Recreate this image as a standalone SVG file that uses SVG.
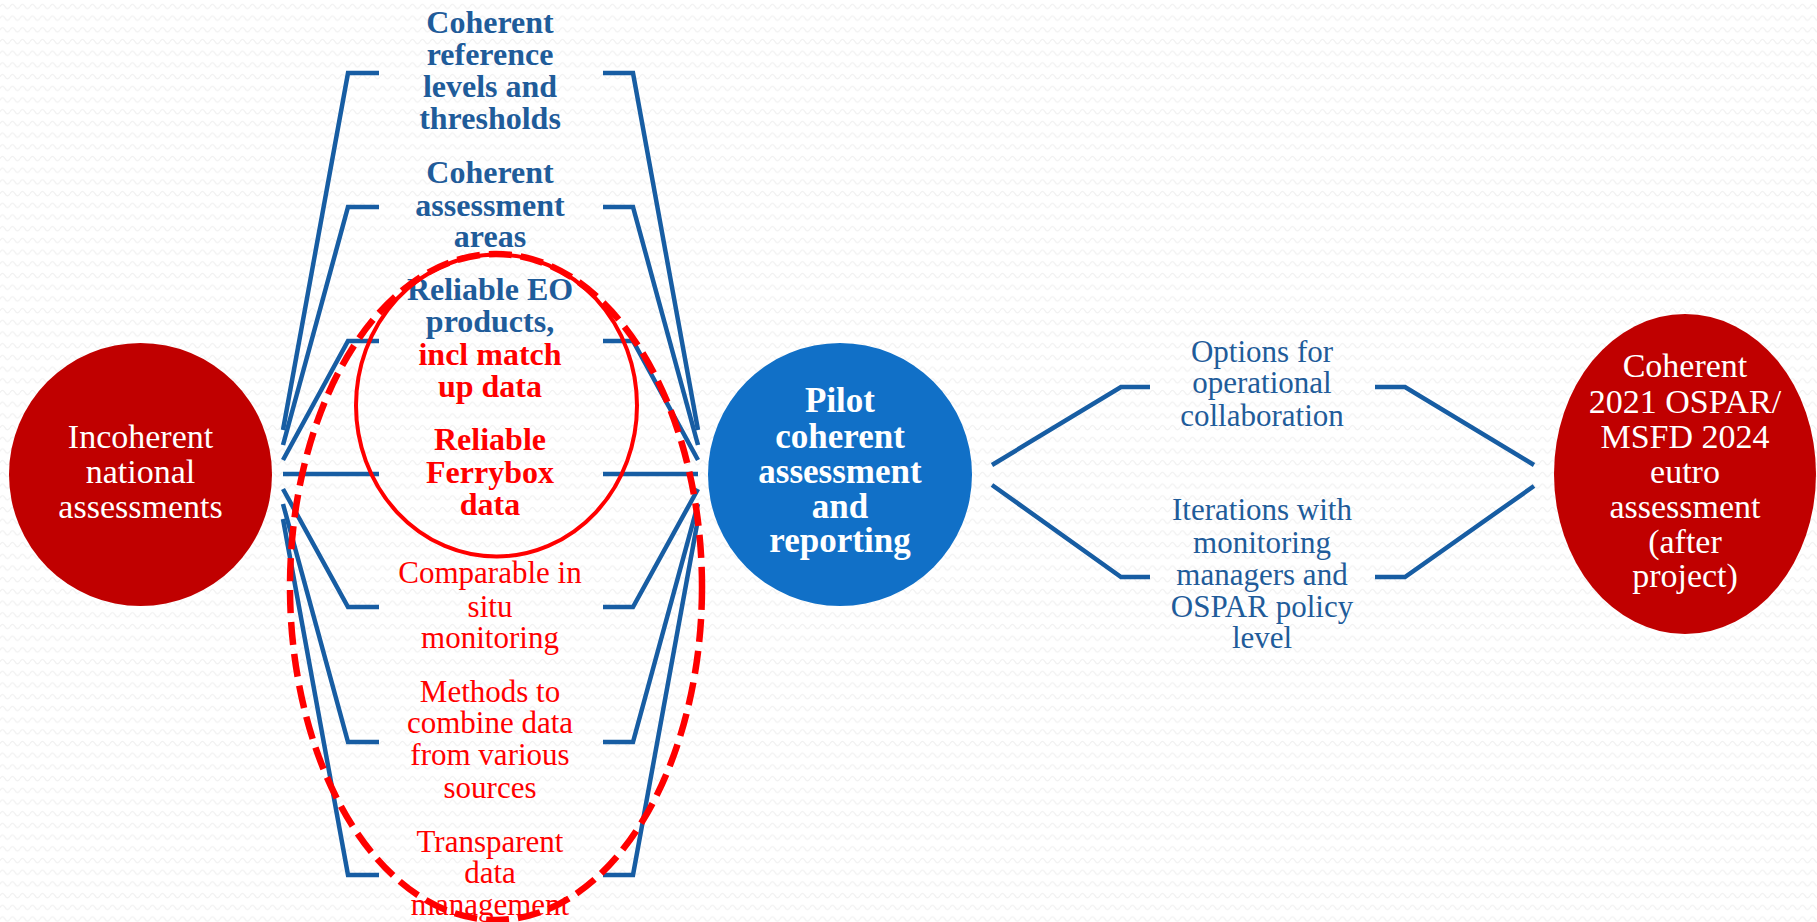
<svg xmlns="http://www.w3.org/2000/svg" width="1817" height="922" viewBox="0 0 1817 922">
<defs>
<pattern id="bg" width="10" height="11.7" patternUnits="userSpaceOnUse">
<path d="M0 6.5 Q2.5 2 5 6.5 T10 6.5" fill="none" stroke="#f1f1f1" stroke-width="1.2"/>
</pattern>
<style>
text{font-family:"Liberation Serif","Times New Roman",serif;text-anchor:middle}
.b{fill:#1f5c9a;font-weight:bold;font-size:32px}
.rb{fill:#ff0000;font-weight:bold;font-size:32px}
.r{fill:#ff0000;font-size:31px}
.bl{fill:#1f5c9a;font-size:31px}
.w{fill:#ffffff;font-size:34px}
.wb{fill:#ffffff;font-size:35px;font-weight:bold}
.con polyline{fill:none;stroke:#175da3;stroke-width:4.5;stroke-linejoin:miter}
</style>
</defs>
<rect width="1817" height="922" fill="#ffffff"/>
<rect width="1817" height="922" fill="url(#bg)"/>

<g id="connectors" class="con">
<polyline points="283,430 348,73 379,73"/>
<polyline points="283,445 348,207 379,207"/>
<polyline points="283,460 348,341 379,341"/>
<polyline points="283,474 348,474 379,474"/>
<polyline points="283,489 348,607 379,607"/>
<polyline points="283,504 348,742 379,742"/>
<polyline points="283,519 348,875 379,875"/>
<polyline points="603,73 633,73 698,430"/>
<polyline points="603,207 633,207 698,445"/>
<polyline points="603,341 633,341 698,460"/>
<polyline points="603,474 633,474 698,474"/>
<polyline points="603,607 633,607 698,489"/>
<polyline points="603,742 633,742 698,504"/>
<polyline points="603,875 633,875 698,519"/>
<polyline points="992,465 1121,387 1150,387"/>
<polyline points="1375,387 1405,387 1534,465"/>
<polyline points="992,485 1121,577 1150,577"/>
<polyline points="1375,577 1405,577 1534,486"/>
</g>

<g id="incoherent">
<ellipse cx="140.5" cy="474.5" rx="131.5" ry="131.5" fill="#c00000"/>
<text class="w"><tspan x="140.5" y="448">Incoherent</tspan><tspan x="140.5" y="483">national</tspan><tspan x="140.5" y="518">assessments</tspan></text>
</g>

<g id="pilot">
<ellipse cx="840" cy="474.5" rx="132" ry="131.5" fill="#1170c7"/>
<text class="wb"><tspan x="840" y="412">Pilot</tspan><tspan x="840" y="448">coherent</tspan><tspan x="840" y="483">assessment</tspan><tspan x="840" y="518">and</tspan><tspan x="840" y="552">reporting</tspan></text>
</g>

<g id="coherent2021">
<ellipse cx="1685" cy="474" rx="131" ry="160" fill="#c00000"/>
<text class="w"><tspan x="1685" y="377">Coherent</tspan><tspan x="1685" y="413">2021 OSPAR/</tspan><tspan x="1685" y="448">MSFD 2024</tspan><tspan x="1685" y="483">eutro</tspan><tspan x="1685" y="518">assessment</tspan><tspan x="1685" y="553">(after</tspan><tspan x="1685" y="587">project)</tspan></text>
</g>

<g id="item-reference">
<text class="b"><tspan x="490" y="33">Coherent</tspan><tspan x="490" y="65">reference</tspan><tspan x="490" y="97">levels and</tspan><tspan x="490" y="129">thresholds</tspan></text>
</g>
<g id="item-areas">
<text class="b"><tspan x="490" y="183">Coherent</tspan><tspan x="490" y="216">assessment</tspan><tspan x="490" y="247">areas</tspan></text>
</g>
<g id="item-eo">
<text class="b"><tspan x="490" y="300">Reliable EO</tspan><tspan x="490" y="332">products,</tspan></text>
<text class="rb"><tspan x="490" y="365">incl match</tspan><tspan x="490" y="397">up data</tspan></text>
</g>
<g id="item-ferrybox">
<text class="rb"><tspan x="490" y="450">Reliable</tspan><tspan x="490" y="483">Ferrybox</tspan><tspan x="490" y="515">data</tspan></text>
</g>
<g id="item-insitu">
<text class="r"><tspan x="490" y="583">Comparable in</tspan><tspan x="490" y="617">situ</tspan><tspan x="490" y="648">monitoring</tspan></text>
</g>
<g id="item-methods">
<text class="r"><tspan x="490" y="702">Methods to</tspan><tspan x="490" y="733">combine data</tspan><tspan x="490" y="765">from various</tspan><tspan x="490" y="798">sources</tspan></text>
</g>
<g id="item-transparent">
<text class="r"><tspan x="490" y="852">Transparent</tspan><tspan x="490" y="883">data</tspan><tspan x="490" y="915">management</tspan></text>
</g>

<g id="item-options">
<text class="bl"><tspan x="1262" y="362">Options for</tspan><tspan x="1262" y="393">operational</tspan><tspan x="1262" y="426">collaboration</tspan></text>
</g>
<g id="item-iterations">
<text class="bl"><tspan x="1262" y="520">Iterations with</tspan><tspan x="1262" y="553">monitoring</tspan><tspan x="1262" y="585">managers and</tspan><tspan x="1262" y="617">OSPAR policy</tspan><tspan x="1262" y="648">level</tspan></text>
</g>

<g id="highlight-solid">
<ellipse cx="496.5" cy="405.5" rx="140.5" ry="151" fill="none" stroke="#ff0000" stroke-width="4"/>
</g>
<g id="highlight-dashed">
<ellipse cx="496" cy="587" rx="206" ry="333" fill="none" stroke="#ff0000" stroke-width="6.5" stroke-dasharray="23 9"/>
</g>
</svg>
